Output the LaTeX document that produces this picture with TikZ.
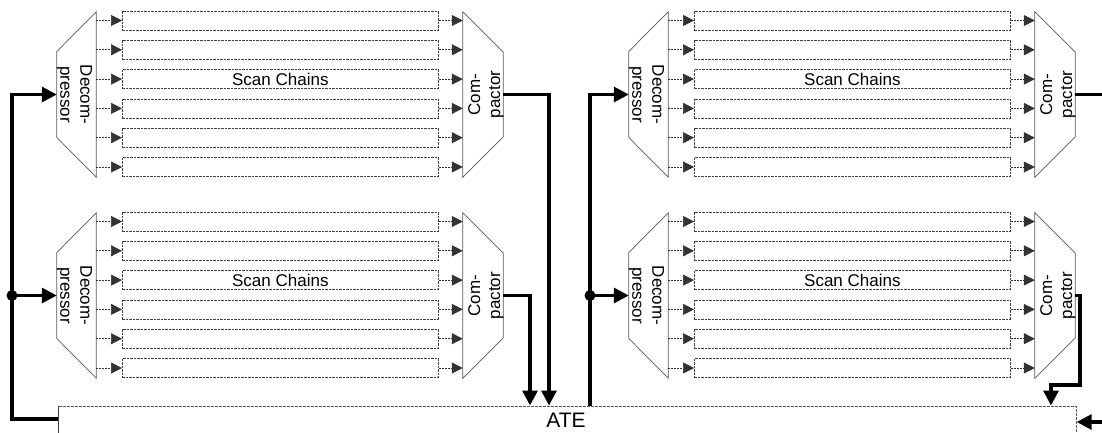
\documentclass[tikz,border=0pt]{standalone}
\usepackage{fontspec}
\setmainfont{Liberation Sans}
\usetikzlibrary{arrows.meta,calc}
\begin{document}
\begin{tikzpicture}[x=1pt,y=-1pt,
  chain/.style={draw=black!75, dash pattern=on 2.5pt off 1pt, line width=0.7pt, minimum width=316pt, minimum height=19pt, inner sep=0pt, anchor=west},
  unitbox/.style={draw=none, minimum width=39pt, minimum height=165pt, inner sep=0pt},
  txt/.style={font=\fontsize{17}{20}\selectfont, align=center, inner sep=0pt},
  trap/.style={draw=black!65, line width=0.7pt, line join=miter},
  small/.style={draw=black!80, line width=0.7pt, dash pattern=on 2pt off 1pt, -{Triangle[length=11pt,width=11pt]}},
  bus/.style={line width=3.3pt, line join=miter},
  busarrow/.style={bus, -{Triangle[length=15pt,width=15pt]}},
  atebox/.style={draw=black!65, dash pattern=on 3pt off 1pt, line width=0.7pt, minimum width=1018pt, minimum height=60pt, inner sep=0pt, anchor=north west}]

\useasboundingbox (0,0) rectangle (1102,432);
\fill[white] (0,0) rectangle (1102,432);

\foreach \n/\dx/\dy in {a/0/0, b/0/201, c/572/0, d/572/201} {
  \begin{scope}[shift={(\dx,\dy)}]
    % decompressor
    \node[unitbox] (dec\n) at (76.5,94.5) {};
    \draw[trap] (dec\n.north east) -- (dec\n.south east) -- ($(dec\n.west)+(0,43)$) -- ($(dec\n.west)+(0,-43)$) -- cycle;
    \node[txt, rotate=-90] (dect\n) at ($(dec\n)+(-2,0)$) {Decom-\\pressor};
    % compactor
    \node[unitbox, minimum width=40pt] (cmp\n) at (483,94.5) {};
    \draw[trap] (cmp\n.north west) -- ($(cmp\n.east)+(0,-42.5)$) -- ($(cmp\n.east)+(0,42.5)$) -- (cmp\n.south west) -- cycle;
    \node[txt, rotate=90] (cmpt\n) at ($(cmp\n)+(3,0)$) {Com-\\pactor};
    % scan chains
    \foreach \i in {0,...,5} {
      \node[chain] (r\n\i) at (122,20.5+29.3*\i) {};
      \draw[small] (dec\n.east |- r\n\i.west) -- (r\n\i.west);
      \draw[small] (r\n\i.east) -- (cmp\n.west |- r\n\i.east);
    }
    \node[txt] (sc\n) at (r\n2.center) {Scan Chains};
  \end{scope}
}

% ATE
\node[atebox] (ate) at (58,405.5) {};
\draw[black!75, line width=0.7pt] (ate.north west) -- (ate.south west);
\node[font=\fontsize{21}{24}\selectfont, inner sep=0pt] (atel) at (566,420) {ATE};

% coordinates
\coordinate (ja) at (12,295.5);
\coordinate (jc) at (590,295.5);
\coordinate (inL) at (58,419);
\coordinate (oa) at (549,405.5);
\coordinate (ob) at (530,405.5);
\coordinate (oc) at (1102,94.5);
\coordinate (od) at (1051,405.5);
\coordinate (odturn) at (1080,385);
\coordinate (inR) at (1102,422);

% left input bus
\draw[busarrow] (inL) -| (ja) |- (deca.west);
\draw[busarrow] (ja) -- (decb.west);
\fill (ja) circle (5.5pt);

% right input bus
\draw[busarrow] (jc |- ate.north) |- (decc.west);
\draw[busarrow] (jc) -- (decd.west);
\fill (jc) circle (5.5pt);

% compactor outputs
\draw[busarrow] (cmpa.east) -| (oa);
\draw[busarrow] (cmpb.east) -| (ob);
\draw[bus] (cmpc.east) -- (oc);
\draw[busarrow] (cmpd.east) -| (odturn) -| (od);

% right input into ATE
\draw[busarrow] (inR) -- (ate.north east |- inR);
\end{tikzpicture}
\end{document}
